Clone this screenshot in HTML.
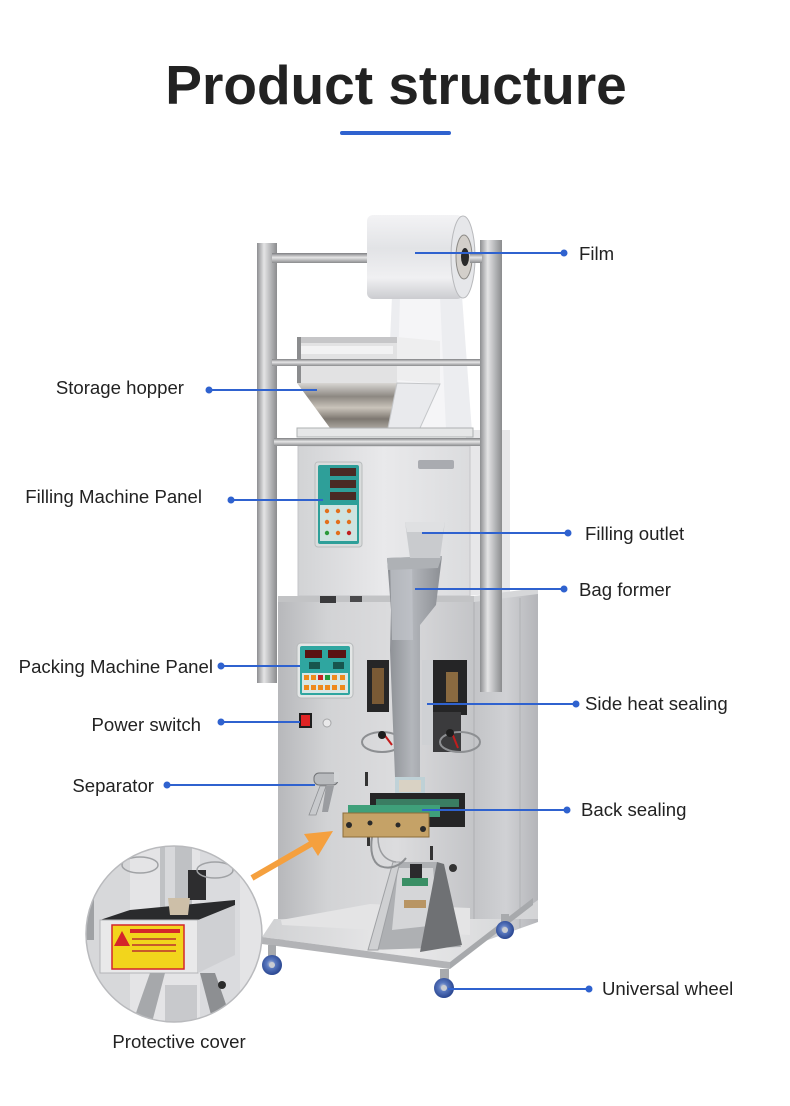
<!DOCTYPE html>
<html>
<head>
<meta charset="utf-8">
<style>
html,body{margin:0;padding:0;background:#fff;}
body{width:790px;height:1106px;overflow:hidden;position:relative;}
svg{display:block;}
text{font-family:"Liberation Sans",Arial,sans-serif;}
</style>
</head>
<body>
<svg width="790" height="1106" viewBox="0 0 790 1106" xmlns="http://www.w3.org/2000/svg">
<defs>
  <linearGradient id="gFront" x1="0" x2="1" y1="0" y2="0">
    <stop offset="0" stop-color="#b7b8bb"/>
    <stop offset="0.25" stop-color="#d2d3d5"/>
    <stop offset="0.6" stop-color="#dcdcde"/>
    <stop offset="1" stop-color="#c3c4c7"/>
  </linearGradient>
  <linearGradient id="gSide" x1="0" x2="1" y1="0" y2="0">
    <stop offset="0" stop-color="#c3c4c7"/>
    <stop offset="0.5" stop-color="#d0d1d4"/>
    <stop offset="1" stop-color="#b4b5b9"/>
  </linearGradient>
  <linearGradient id="gUpper" x1="0" x2="1" y1="0" y2="0">
    <stop offset="0" stop-color="#d2d3d5"/>
    <stop offset="0.5" stop-color="#e9e9eb"/>
    <stop offset="1" stop-color="#dbdcde"/>
  </linearGradient>
  <linearGradient id="gPost" x1="0" x2="1" y1="0" y2="0">
    <stop offset="0" stop-color="#8d8e91"/>
    <stop offset="0.35" stop-color="#e4e4e5"/>
    <stop offset="0.7" stop-color="#b3b4b6"/>
    <stop offset="1" stop-color="#8b8c8e"/>
  </linearGradient>
  <linearGradient id="gRod" x1="0" x2="0" y1="0" y2="1">
    <stop offset="0" stop-color="#7e7f82"/>
    <stop offset="0.45" stop-color="#e6e6e7"/>
    <stop offset="1" stop-color="#8a8b8d"/>
  </linearGradient>
  <linearGradient id="gRoll" x1="0" x2="0" y1="0" y2="1">
    <stop offset="0" stop-color="#f3f3f5"/>
    <stop offset="0.4" stop-color="#e2e3e6"/>
    <stop offset="0.75" stop-color="#f0f0f2"/>
    <stop offset="1" stop-color="#cbccd0"/>
  </linearGradient>
  <linearGradient id="gTube" x1="0" x2="1" y1="0" y2="0">
    <stop offset="0" stop-color="#8a8d92"/>
    <stop offset="0.45" stop-color="#b3b6bb"/>
    <stop offset="1" stop-color="#8b8e93"/>
  </linearGradient>
  <linearGradient id="gFunnel" x1="0" x2="0" y1="0" y2="1">
    <stop offset="0" stop-color="#d8d6d3"/>
    <stop offset="0.3" stop-color="#8d8882"/>
    <stop offset="0.55" stop-color="#c9c3ba"/>
    <stop offset="0.8" stop-color="#7d7770"/>
    <stop offset="1" stop-color="#a9a49d"/>
  </linearGradient>
  <linearGradient id="gPlate" x1="0" x2="1" y1="0" y2="0">
    <stop offset="0" stop-color="#d0d1d3"/>
    <stop offset="0.5" stop-color="#e9e9ea"/>
    <stop offset="1" stop-color="#d3d4d6"/>
  </linearGradient>
  <radialGradient id="gWheel" cx="0.45" cy="0.45" r="0.6">
    <stop offset="0" stop-color="#cfd3dc"/>
    <stop offset="0.35" stop-color="#5a79c0"/>
    <stop offset="1" stop-color="#233f8a"/>
  </radialGradient>
  <clipPath id="circ"><circle cx="174" cy="934" r="88"/></clipPath>
</defs>

<!-- Title -->
<text x="396" y="104" text-anchor="middle" font-size="55" font-weight="bold" fill="#222">Product structure</text>
<rect x="340" y="131" width="111" height="4" rx="2" fill="#2f62cf"/>

<!-- ===== Machine ===== -->
<!-- film web -->
<polygon points="392,296 462,296 472,432 386,432" fill="#ecedf0"/>
<polygon points="400,296 440,296 446,430 396,430" fill="#f5f5f7"/>

<!-- filling box right panel -->
<polygon points="466,430 510,430 510,592 466,596" fill="#e7e7e9"/>
<!-- filling machine box -->
<rect x="298" y="446" width="172" height="150" fill="url(#gUpper)"/>
<rect x="298" y="446" width="172" height="150" fill="none" stroke="#c4c5c8" stroke-width="1"/>
<!-- filling panel -->
<rect x="315" y="462" width="47" height="85" rx="3" fill="#d9dcdc" stroke="#b9bcbd"/>
<rect x="318" y="465" width="41" height="79" rx="2" fill="#2e9f99"/>
<rect x="330" y="468" width="26" height="8" fill="#4a2a24"/>
<rect x="330" y="480" width="26" height="8" fill="#4a2a24"/>
<rect x="330" y="492" width="26" height="8" fill="#4a2a24"/>
<rect x="320" y="505" width="37" height="36" fill="#cfe3e0"/>
<g fill="#e2701c">
  <circle cx="327" cy="511" r="2.2"/><circle cx="338" cy="511" r="2.2"/><circle cx="349" cy="511" r="2.2"/>
  <circle cx="327" cy="522" r="2.2"/><circle cx="338" cy="522" r="2.2"/><circle cx="349" cy="522" r="2.2"/>
  <circle cx="338" cy="533" r="2.2"/>
</g>
<circle cx="327" cy="533" r="2.2" fill="#2a9a3a"/>
<circle cx="349" cy="533" r="2.2" fill="#c02020"/>
<!-- logo -->
<rect x="418" y="460" width="36" height="9" rx="2" fill="#a9abb0"/>

<!-- lower body front -->
<rect x="278" y="600" width="198" height="340" fill="url(#gFront)"/>
<!-- lower body right side -->
<polygon points="474,600 538,592 538,922 474,945" fill="url(#gSide)"/>
<line x1="474" y1="600" x2="474" y2="945" stroke="#aeb0b3" stroke-width="1"/>
<line x1="520" y1="598" x2="520" y2="928" stroke="#b0b2b5" stroke-width="1"/>
<!-- top edge of lower body -->
<rect x="278" y="596" width="198" height="6" fill="#c2c3c5"/>
<polygon points="474,596 538,588 538,594 474,602" fill="#d6d7d9"/>
<rect x="320" y="596" width="16" height="7" fill="#3a3a3c"/>
<rect x="350" y="596" width="12" height="6" fill="#4a4a4c"/>

<!-- base plate -->
<polygon points="262,937 274,919 538,919 538,900 450,962" fill="url(#gPlate)"/>
<polygon points="281,920 370,904 470,908 470,935 282,925" fill="#e4e4e5"/>
<polygon points="262,937 450,962 450,969 262,944" fill="#b2b3b6"/>
<polygon points="450,962 533,898 533,905 450,969" fill="#a7a9ac"/>

<!-- chute -->
<polygon points="393,862 437,862 461,947 368,950" fill="#aeb0b3"/>
<polygon points="398,868 433,868 438,925 392,930" fill="#d5d6d8"/>
<polygon points="393,862 400,862 378,950 368,950" fill="#cfd0d2" stroke="#9fa1a4" stroke-width="1"/>
<polygon points="437,862 444,864 462,945 420,952" fill="#6f7174"/>
<rect x="402" y="878" width="26" height="8" fill="#3a8f65"/>
<rect x="404" y="900" width="22" height="8" fill="#b89564"/>
<rect x="410" y="864" width="12" height="14" fill="#2b2b2d"/>

<!-- packing panel -->
<rect x="297" y="643" width="56" height="55" rx="4" fill="#e3e6e6" stroke="#b7babb"/>
<rect x="300" y="646" width="50" height="49" rx="2" fill="#2fa6a0"/>
<rect x="305" y="650" width="17" height="8" fill="#5a1212"/>
<rect x="328" y="650" width="18" height="8" fill="#5a1212"/>
<rect x="309" y="662" width="11" height="7" fill="#17564e"/>
<rect x="333" y="662" width="11" height="7" fill="#17564e"/>
<rect x="302" y="673" width="46" height="20" fill="#d8e7e5"/>
<g fill="#ee8a1c">
  <rect x="304" y="675" width="5" height="5"/><rect x="311" y="675" width="5" height="5"/>
  <rect x="332" y="675" width="5" height="5"/><rect x="340" y="675" width="5" height="5"/>
  <rect x="304" y="685" width="5" height="5"/><rect x="311" y="685" width="5" height="5"/>
  <rect x="318" y="685" width="5" height="5"/><rect x="325" y="685" width="5" height="5"/>
  <rect x="332" y="685" width="5" height="5"/><rect x="340" y="685" width="5" height="5"/>
</g>
<rect x="318" y="675" width="5" height="5" fill="#c92020"/>
<rect x="325" y="675" width="5" height="5" fill="#1f9a3a"/>

<!-- power switch -->
<rect x="299" y="713" width="13" height="15" fill="#1e1e1e"/>
<rect x="301" y="715" width="9" height="11" fill="#e02424"/>
<circle cx="327" cy="723" r="4" fill="#e9e9ea" stroke="#a5a6a8"/>

<!-- separator lever -->
<polygon points="320,786 326,786 316,815 309,815" fill="#c8cacd" stroke="#8e9093" stroke-width="0.8"/>
<polygon points="326,786 334,786 328,812 322,812" fill="#9a9ca0"/>
<rect x="314" y="773" width="24" height="12" rx="5" fill="#b9bbbe" stroke="#707275" stroke-width="1"/>
<rect x="334" y="772" width="5" height="10" fill="#d4d6d8"/>

<!-- small slots -->
<rect x="365" y="772" width="3" height="14" fill="#333"/>
<rect x="367" y="832" width="3" height="14" fill="#333"/>
<rect x="430" y="846" width="3" height="14" fill="#333"/>
<circle cx="453" cy="868" r="4" fill="#333"/>

<!-- sealing jaws -->
<rect x="367" y="660" width="22" height="52" fill="#262627"/>
<rect x="372" y="668" width="12" height="36" fill="#7a5a35"/>
<rect x="432" y="660" width="35" height="55" fill="#252526"/>
<rect x="446" y="672" width="12" height="30" fill="#8a6a40"/>
<rect x="433" y="712" width="28" height="40" fill="#3b3b3d"/>
<!-- wires -->
<ellipse cx="382" cy="742" rx="20" ry="10" fill="none" stroke="#8d8f92" stroke-width="2"/>
<ellipse cx="460" cy="742" rx="20" ry="10" fill="none" stroke="#8d8f92" stroke-width="2"/>
<path d="M372,837 C370,850 372,862 380,866 C390,870 400,866 406,858" fill="none" stroke="#8d8f92" stroke-width="2"/>
<path d="M378,837 C378,852 384,860 396,862" fill="none" stroke="#9a9c9f" stroke-width="1.5"/>
<line x1="383" y1="733" x2="392" y2="745" stroke="#c21d1d" stroke-width="2"/>
<line x1="452" y1="733" x2="458" y2="748" stroke="#c21d1d" stroke-width="2"/>
<circle cx="382" cy="735" r="4" fill="#1e1e1e"/>
<circle cx="450" cy="733" r="4" fill="#1e1e1e"/>

<!-- bag former tube -->
<polygon points="387,558 442,556 436,605 420,625 420,777 395,777 390,650 391,610" fill="url(#gTube)"/>
<polygon points="390,560 412,560 413,640 392,640" fill="#c2c5ca" opacity="0.7"/>
<polygon points="387,558 442,556 438,568 388,570" fill="#aeb1b5"/>
<rect x="422" y="660" width="11" height="85" fill="#cfd1d4"/>
<!-- filling outlet -->
<polygon points="405,522 445,522 440,558 410,558" fill="#c9cbce"/>
<polygon points="405,522 445,522 443,532 407,532" fill="#dfe0e2"/>
<!-- clear bag bottom -->
<rect x="395" y="777" width="30" height="33" fill="#b9d0d6" opacity="0.8"/>
<rect x="399" y="780" width="22" height="12" fill="#d9d2c4"/>

<!-- back sealing -->
<rect x="370" y="793" width="95" height="34" fill="#252526"/>
<rect x="376" y="799" width="83" height="8" fill="#3a7d62"/>
<rect x="348" y="805" width="92" height="12" fill="#3fa07a"/>
<rect x="343" y="813" width="86" height="24" fill="#c5a267" stroke="#8d6d3a" stroke-width="1"/>
<g fill="#2a2a2a">
  <circle cx="349" cy="825" r="3"/><circle cx="370" cy="823" r="2.5"/>
  <circle cx="398" cy="825" r="2.5"/><circle cx="423" cy="829" r="3"/>
</g>

<!-- uprights -->
<rect x="257" y="243" width="20" height="440" fill="url(#gPost)"/>
<rect x="480" y="240" width="22" height="452" fill="url(#gPost)"/>

<!-- film roll -->
<rect x="367" y="215" width="96" height="84" rx="6" fill="url(#gRoll)"/>
<ellipse cx="463" cy="257" rx="12" ry="41" fill="#e6e7ea" stroke="#b8b9bc" stroke-width="1"/>
<ellipse cx="464" cy="257" rx="8" ry="22" fill="#d3cfca" stroke="#8c8a86" stroke-width="1"/>
<ellipse cx="465" cy="257" rx="4" ry="9" fill="#2a2a2a"/>

<!-- top rod -->
<rect x="272" y="253" width="95" height="10" fill="url(#gRod)"/>
<rect x="470" y="253" width="12" height="10" fill="url(#gRod)"/>

<!-- hopper -->
<polygon points="397,337 440,341 440,384 397,380" fill="#eeeeef"/>
<rect x="297" y="337" width="100" height="46" fill="#e2e2e3"/>
<rect x="297" y="337" width="100" height="6" fill="#c6c6c8"/>
<rect x="301" y="346" width="92" height="8" fill="#f2f2f3"/>
<rect x="297" y="337" width="4" height="46" fill="#8b8c8e"/>
<polygon points="297,383 397,383 388,428 330,428" fill="url(#gFunnel)"/>
<polygon points="397,383 440,384 420,428 388,428" fill="#e9eaed" stroke="#c5c7ca" stroke-width="1"/>
<!-- crossbar over hopper -->
<rect x="272" y="359" width="208" height="7" fill="url(#gRod)"/>
<!-- plate under hopper -->
<rect x="297" y="428" width="176" height="9" fill="#e6e7e8" stroke="#aeb0b2" stroke-width="1"/>
<rect x="274" y="438" width="206" height="8" fill="url(#gRod)"/>

<!-- wheels -->
<g>
  <rect x="268" y="945" width="8" height="12" fill="#a8aaad"/>
  <circle cx="272" cy="965" r="10" fill="url(#gWheel)"/>
  <circle cx="272" cy="965" r="3" fill="#c9ccd2"/>
  <rect x="501" y="914" width="8" height="10" fill="#a8aaad"/>
  <circle cx="505" cy="930" r="9" fill="url(#gWheel)"/>
  <circle cx="505" cy="930" r="3" fill="#c9ccd2"/>
  <rect x="440" y="969" width="9" height="10" fill="#a8aaad"/>
  <circle cx="444" cy="988" r="10" fill="url(#gWheel)"/>
  <circle cx="444" cy="988" r="3" fill="#c9ccd2"/>
</g>

<!-- ===== inset circle ===== -->
<g clip-path="url(#circ)">
  <rect x="80" y="840" width="190" height="190" fill="#e4e4e6"/>
  <rect x="80" y="840" width="50" height="190" fill="#d7d8da"/>
  <rect x="200" y="840" width="40" height="190" fill="#dadbde"/>
  <rect x="160" y="840" width="32" height="85" fill="#bfc1c4"/>
  <rect x="165" y="840" width="10" height="85" fill="#d7d8db"/>
  <rect x="188" y="870" width="18" height="30" fill="#2d2d2f"/>
  <ellipse cx="140" cy="865" rx="18" ry="8" fill="none" stroke="#a0a2a5" stroke-width="1.5"/>
  <ellipse cx="215" cy="870" rx="18" ry="8" fill="none" stroke="#a0a2a5" stroke-width="1.5"/>
  <polygon points="130,910 235,900 235,912 198,920 100,920" fill="#2a2b2d"/>
  <polygon points="168,898 190,898 188,915 170,915" fill="#cdbfa8"/>
  <rect x="100" y="920" width="98" height="53" fill="#e9e9ea" stroke="#b4b5b8" stroke-width="1"/>
  <polygon points="198,920 235,905 235,955 198,973" fill="#cfd0d3"/>
  <rect x="112" y="925" width="72" height="44" fill="#f2d51c" stroke="#d4262a" stroke-width="1.5"/>
  <polygon points="122,931 130,946 114,946" fill="#d4262a"/>
  <rect x="130" y="929" width="50" height="4" fill="#d4262a"/>
  <rect x="132" y="938" width="44" height="2" fill="#c85a2a"/>
  <rect x="132" y="944" width="44" height="2" fill="#c85a2a"/>
  <rect x="132" y="950" width="44" height="2" fill="#c85a2a"/>
  <polygon points="150,973 165,973 150,1030 130,1030" fill="#a6a8ab"/>
  <polygon points="200,973 215,973 235,1030 215,1030" fill="#8d8f92"/>
  <rect x="165" y="985" width="32" height="45" fill="#c8c9cc"/>
  <circle cx="222" cy="985" r="4" fill="#2b2b2b"/>
  <rect x="84" y="890" width="10" height="50" fill="#9fa1a4"/>
</g>
<circle cx="174" cy="934" r="88" fill="none" stroke="#b9babd" stroke-width="1.5"/>

<!-- orange arrow -->
<line x1="252" y1="878" x2="316" y2="841" stroke="#f5a03e" stroke-width="6"/>
<polygon points="333,831 304,834 318,856" fill="#f5a03e"/>

<!-- ===== connectors ===== -->
<g stroke="#2f62cf" stroke-width="2" fill="none">
  <line x1="209" y1="390" x2="317" y2="390"/>
  <line x1="231" y1="500" x2="323" y2="500"/>
  <line x1="221" y1="666" x2="300" y2="666"/>
  <line x1="221" y1="722" x2="300" y2="722"/>
  <line x1="167" y1="785" x2="315" y2="785"/>
  <line x1="415" y1="253" x2="564" y2="253"/>
  <line x1="422" y1="533" x2="568" y2="533"/>
  <line x1="415" y1="589" x2="564" y2="589"/>
  <line x1="427" y1="704" x2="576" y2="704"/>
  <line x1="422" y1="810" x2="567" y2="810"/>
  <line x1="448" y1="989" x2="589" y2="989"/>
</g>
<g fill="#2f62cf">
  <circle cx="209" cy="390" r="3.5"/>
  <circle cx="231" cy="500" r="3.5"/>
  <circle cx="221" cy="666" r="3.5"/>
  <circle cx="221" cy="722" r="3.5"/>
  <circle cx="167" cy="785" r="3.5"/>
  <circle cx="564" cy="253" r="3.5"/>
  <circle cx="568" cy="533" r="3.5"/>
  <circle cx="564" cy="589" r="3.5"/>
  <circle cx="576" cy="704" r="3.5"/>
  <circle cx="567" cy="810" r="3.5"/>
  <circle cx="589" cy="989" r="3.5"/>
</g>

<!-- ===== labels ===== -->
<g font-size="18.6" fill="#222">
  <text x="184" y="394" text-anchor="end">Storage hopper</text>
  <text x="202" y="503" text-anchor="end">Filling Machine Panel</text>
  <text x="213" y="673" text-anchor="end">Packing Machine Panel</text>
  <text x="201" y="731" text-anchor="end">Power switch</text>
  <text x="154" y="792" text-anchor="end">Separator</text>
  <text x="579" y="260">Film</text>
  <text x="585" y="540">Filling outlet</text>
  <text x="579" y="596">Bag former</text>
  <text x="585" y="710">Side heat sealing</text>
  <text x="581" y="816">Back sealing</text>
  <text x="602" y="995">Universal wheel</text>
  <text x="179" y="1048" text-anchor="middle">Protective cover</text>
</g>
</svg>
</body>
</html>
